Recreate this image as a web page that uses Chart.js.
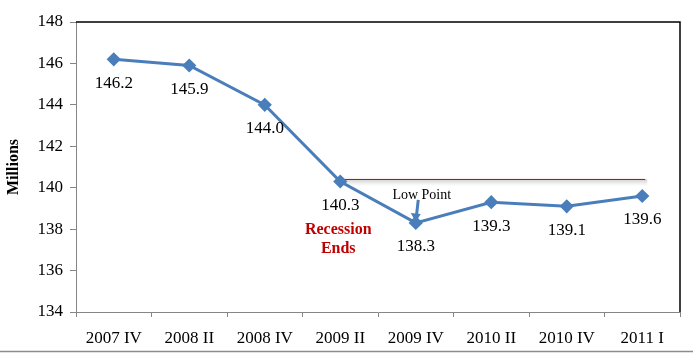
<!DOCTYPE html>
<html>
<head>
<meta charset="utf-8">
<script src="https://cdn.jsdelivr.net/npm/chart.js@4/dist/chart.umd.min.js"></script>
<style>
html,body{margin:0;padding:0;background:#fff;}
#wrap{width:693px;height:356px;position:relative;}
</style>
</head>
<body>
<div id="wrap"><canvas id="c"></canvas></div>
<script>
const categories = ["2007 IV","2008 II","2008 IV","2009 II","2009 IV","2010 II","2010 IV","2011 I"];
const values = [146.2,145.9,144.0,140.3,138.3,139.3,139.1,139.6];
const valueLabels = ["146.2","145.9","144.0","140.3","138.3","139.3","139.1","139.6"];
const yMin = 134, yMax = 148, yStep = 2;
const refLevel = 140.4;
const lowIndex = 4;
const recessionIndex = 3;
const FONT = "'Liberation Serif', 'Times New Roman', serif";

const overlay = {
  id: 'overlay',
  beforeDatasetsDraw(chart) {
    const {ctx, scales:{x,y}} = chart;
    const yy = y.getPixelForValue(refLevel);
    const x0 = x.getPixelForValue(recessionIndex);
    const x1 = x.getPixelForValue(7) + 3;
    ctx.save();
    const g = ctx.createLinearGradient(0, yy, 0, yy + 7);
    g.addColorStop(0, 'rgba(150,150,150,0.45)');
    g.addColorStop(1, 'rgba(200,200,200,0)');
    ctx.fillStyle = g;
    ctx.fillRect(x0, yy, x1 - x0 + 2, 7);
    ctx.strokeStyle = '#C00000';
    ctx.lineWidth = 1;
    ctx.beginPath();
    ctx.moveTo(x0, yy);
    ctx.lineTo(x1, yy);
    ctx.stroke();
    ctx.restore();
  },
  afterDraw(chart) {
    const {ctx, chartArea:ca, scales:{x,y}} = chart;
    ctx.save();
    ctx.strokeStyle = '#000';
    ctx.lineWidth = 1.5;
    ctx.beginPath();
    ctx.moveTo(ca.left, ca.top);
    ctx.lineTo(ca.right, ca.top);
    ctx.lineTo(ca.right, ca.bottom);
    ctx.stroke();
    ctx.strokeStyle = '#8c8c8c';
    ctx.lineWidth = 1.5;
    ctx.beginPath();
    ctx.moveTo(0, 351.5);
    ctx.lineTo(693, 351.5);
    ctx.stroke();
    ctx.fillStyle = '#000';
    ctx.font = "17px " + FONT;
    ctx.textAlign = 'center';
    ctx.textBaseline = 'middle';
    values.forEach((v, i) => {
      const px = x.getPixelForValue(i);
      const py = y.getPixelForValue(v);
      ctx.fillText(valueLabels[i], px, py + 24);
    });
    const lx = x.getPixelForValue(lowIndex);
    const ly = y.getPixelForValue(values[lowIndex]);
    ctx.font = "14px " + FONT;
    ctx.fillText("Low Point", lx + 6, ly - 28);
    ctx.strokeStyle = '#4A7EBB';
    ctx.fillStyle = '#4A7EBB';
    ctx.lineWidth = 3;
    ctx.beginPath();
    ctx.moveTo(lx + 2.5, ly - 23);
    ctx.lineTo(lx + 0.8, ly - 8);
    ctx.stroke();
    ctx.beginPath();
    ctx.moveTo(lx, ly - 1);
    ctx.lineTo(lx - 5, ly - 10);
    ctx.lineTo(lx + 5, ly - 9);
    ctx.closePath();
    ctx.fill();
    const rx = x.getPixelForValue(recessionIndex);
    const ry = y.getPixelForValue(values[recessionIndex]);
    ctx.fillStyle = '#C00000';
    ctx.font = "bold 16px " + FONT;
    ctx.fillText("Recession", rx - 2, ry + 48);
    ctx.fillText("Ends", rx - 2, ry + 67);
    ctx.restore();
  }
};

const yTicks = [];
for (let v = yMin; v <= yMax; v += yStep) yTicks.push(v);

new Chart(document.getElementById('c'), {
  type: 'line',
  data: {
    labels: categories,
    datasets: [{
      data: values,
      borderColor: '#4A7EBB',
      backgroundColor: '#4A7EBB',
      borderWidth: 3,
      pointStyle: 'rectRot',
      pointRadius: 5,
      pointHoverRadius: 5,
      tension: 0
    }]
  },
  options: {
    responsive: true,
    maintainAspectRatio: false,
    animation: false,
    layout: { padding: { top: 22, right: 13, left: 0, bottom: 0 } },
    plugins: { legend: { display: false }, tooltip: { enabled: false } },
    scales: {
      x: {
        offset: true,
        afterFit: s => { s.height = 44; },
        grid: { offset: true, drawOnChartArea: false, tickLength: 5, color: '#868686' },
        border: { color: '#868686', width: 1 },
        ticks: { color: '#000', padding: 11, font: { family: FONT, size: 17 }, maxRotation: 0, autoSkip: false }
      },
      y: {
        min: yMin, max: yMax,
        afterFit: s => { s.width = 76; },
        afterBuildTicks: s => { s.ticks = yTicks.map(v => ({ value: v })); },
        grid: { drawOnChartArea: false, tickLength: 6, color: '#868686' },
        border: { color: '#868686', width: 1 },
        ticks: { color: '#000', padding: 7, font: { family: FONT, size: 17 } },
        title: { display: true, text: 'Millions', color: '#000', padding: { top: 4, bottom: 0 }, font: { family: FONT, size: 16, weight: 'bold' } }
      }
    }
  },
  plugins: [overlay]
});
</script>
</body>
</html>
